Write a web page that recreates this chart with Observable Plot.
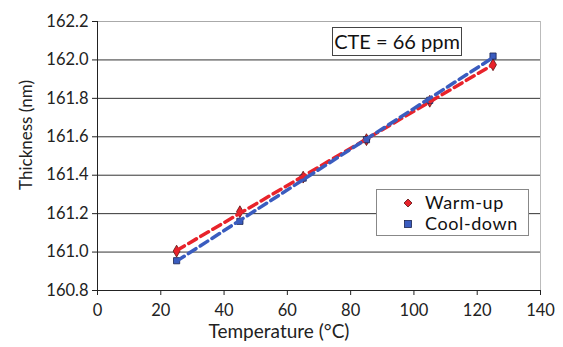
<!DOCTYPE html>
<html><head><meta charset="utf-8">
<script src="https://cdn.jsdelivr.net/npm/d3@7"></script>
<script src="https://cdn.jsdelivr.net/npm/@observablehq/plot@0.6"></script>
<style>
body{margin:0;background:#fff;}
#wrap{position:relative;width:563px;height:347px;font-family:Lato,"Open Sans",sans-serif;}
.box{position:absolute;background:#fff;border:1px solid #333;color:#111;box-sizing:border-box;}
</style>
</head><body>
<div id="wrap"></div>
<script>
const temps = [25, 45, 65, 85, 105, 125];
const warmUp = [161.005, 161.21, 161.39, 161.585, 161.785, 161.975];
const coolDown = [160.955, 161.16, 161.385, 161.585, 161.79, 162.02];
const seriesNames = ["Warm-up", "Cool-down"];
const yTicks = [160.8, 161.0, 161.2, 161.4, 161.6, 161.8, 162.0, 162.2];
const xTicks = [0, 20, 40, 60, 80, 100, 120, 140];
const annotation = "CTE = 66 ppm";

const red = "#e8232b", blue = "#3a5cbf";
const warm = temps.map((t,i)=>({t, v: warmUp[i]}));
const cool = temps.map((t,i)=>({t, v: coolDown[i]}));

const chart = Plot.plot({
  width: 563, height: 347,
  marginLeft: 97, marginRight: 23, marginTop: 21, marginBottom: 57,
  style: {fontFamily: "Lato, 'Open Sans', sans-serif", fontSize: "16px", color: "#222", background: "#fff"},
  x: {domain: [0, 140]},
  y: {domain: [160.8, 162.2]},
  marks: [
    Plot.gridY(yTicks.slice(1, -1), {stroke: "#333", strokeOpacity: 1, strokeWidth: 1}),
    Plot.ruleY([162.2], {stroke: "#aaa"}),
    Plot.ruleX([140], {stroke: "#bbb"}),
    Plot.ruleX([0], {stroke: "#222"}),
    Plot.ruleY([160.8], {stroke: "#222"}),
    Plot.axisY(yTicks, {tickSize: 5, tickPadding: 4, tickFormat: d3.format(".1f"), label: null, stroke: "#222", fontSize: 16.5}),
    Plot.axisX(xTicks, {tickSize: 5, tickPadding: 9, label: null, stroke: "#222", fontSize: 16.5}),
    Plot.text(["Thickness (nm)"], {frameAnchor: "left", textAnchor: "middle", dx: -71, dy: -21, rotate: -90, fontSize: 17, fill: "#222"}),
    Plot.text(["Temperature (°C)"], {frameAnchor: "bottom", dx: -40, dy: 47, fontSize: 19, fill: "#222"}),
    Plot.dot(warm, {x: "t", y: "v", symbol: "diamond", r: 3.6, fill: red, stroke: "#5a1010", strokeWidth: 0.8}),
    Plot.dot(cool, {x: "t", y: "v", symbol: "square", r: 3.5, fill: blue, stroke: "#1a2450", strokeWidth: 0.8}),
    Plot.linearRegressionY(warm, {x: "t", y: "v", ci: 0, stroke: red, strokeWidth: 3.5, strokeDasharray: "9,5"}),
    Plot.linearRegressionY(cool, {x: "t", y: "v", ci: 0, stroke: blue, strokeWidth: 3.5, strokeDasharray: "9,5"})
  ]
});
const wrap = document.getElementById("wrap");
chart.style.position = "absolute";
chart.style.left = "0"; chart.style.top = "0";
wrap.appendChild(chart);

const cte = document.createElement("div");
cte.className = "box";
cte.style.cssText = "left:332px;top:27px;width:130px;height:29px;line-height:27px;text-align:center;border-color:#444;font-size:20px;white-space:nowrap;";
cte.textContent = annotation;
wrap.appendChild(cte);

const leg = document.createElement("div");
leg.className = "box";
leg.style.cssText = "left:376px;top:189px;width:153px;height:47px;border-color:#888;";
const sym = [
  `<svg width="10" height="10" style="position:absolute;left:26px;top:6px"><path d="M5,1L9,5L5,9L1,5Z" fill="${red}" stroke="#5a1010" stroke-width="0.8"/></svg>`,
  `<svg width="10" height="10" style="position:absolute;left:26px;top:6px"><rect x="1.5" y="1.5" width="7" height="7" fill="${blue}" stroke="#1a2450" stroke-width="0.8"/></svg>`
];
leg.innerHTML = seriesNames.map((n,i)=>`<div style="position:absolute;left:0;top:${2+i*21}px;width:150px;height:21px;">${sym[i]}<span style="position:absolute;left:48px;top:0;font-size:18px;line-height:21px;letter-spacing:0.6px;white-space:nowrap;">${n}</span></div>`).join("");
wrap.appendChild(leg);
</script>
</body></html>
